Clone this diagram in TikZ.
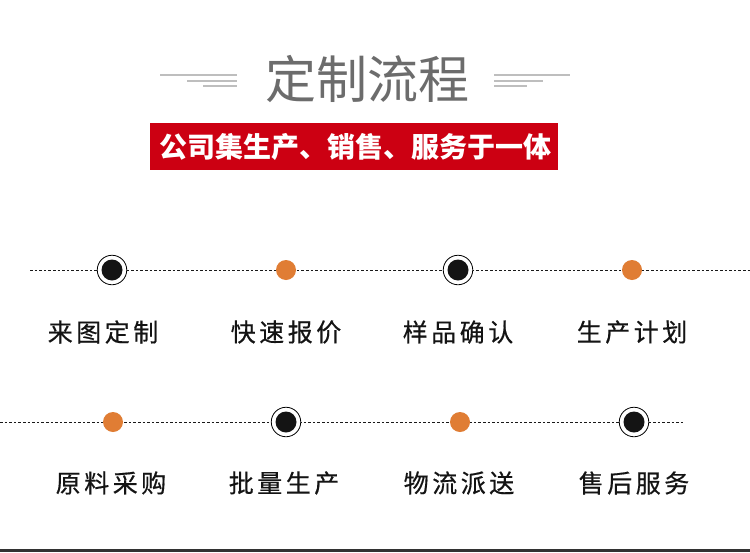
\documentclass[tikz,border=0pt]{standalone}
\usepackage{fontspec}
\newfontfamily\cjk{Noto Sans CJK SC}
\newfontfamily\cjklbl[FakeBold=0.5]{Noto Sans CJK SC}
\definecolor{bannerred}{RGB}{204,0,18}
\definecolor{dotorange}{RGB}{224,125,52}
\definecolor{titlegray}{RGB}{108,108,108}
\definecolor{decogray}{RGB}{190,190,190}
\definecolor{barcol}{RGB}{50,50,50}
\newcommand\lsp{\hspace{3.5pt}}
\begin{document}
\begin{tikzpicture}[x=1pt,y=-1pt,
  ring/.style={circle,draw=black,line width=0.8pt,fill=white,minimum size=29.5pt,inner sep=0pt,
    path picture={\fill[black!92] (path picture bounding box.center) circle (10.5pt);}},
  dot/.style={circle,fill=dotorange,minimum size=20pt,inner sep=0pt},
  lbl/.style={font=\cjklbl\fontsize{25}{25}\selectfont,text=black!92,inner sep=0pt},
  flow/.style={draw=black!90,line width=0.9pt,dash pattern=on 2.6pt off 2pt},
  deco/.style={draw=decogray,line width=1.3pt}
]
\useasboundingbox (0,0) rectangle (750,552);
\fill[white] (0,0) rectangle (750,552);

% title
\node[font=\cjk\fontsize{51}{51}\selectfont,text=titlegray,inner sep=0pt] (title) at (367,79) {定制流程};
\draw[deco] (160,75) -- (237,75);
\draw[deco] (187,81) -- (237,81);
\draw[deco] (203,86) -- (237,86);
\draw[deco] (494,75) -- (570,75);
\draw[deco] (494,81) -- (543,81);
\draw[deco] (494,86) -- (527,86);

% banner
\node[fill=bannerred,minimum width=408pt,minimum height=47pt,inner sep=0pt] (banner) at (354,146.5) {};
\node[font=\cjk\bfseries\fontsize{28}{28}\selectfont,text=white,inner sep=0pt] (bannertext) at (355,147) {公司集生产、销售、服务于一体};

% row 1
\coordinate (r1s) at (30,270);
\coordinate (r1e) at (750,270);
\draw[flow] (r1s) -- (r1e);
\node[ring] (n1) at (112,270) {};
\node[dot] (n2) at (286,270) {};
\node[ring] (n3) at (458,270) {};
\node[dot] (n4) at (632,270) {};
\node[lbl] (l1) at (103,332) {来\lsp 图\lsp 定\lsp 制};
\node[lbl] (l2) at (286,332) {快\lsp 速\lsp 报\lsp 价};
\node[lbl] (l3) at (458,332) {样\lsp 品\lsp 确\lsp 认};
\node[lbl] (l4) at (632,332) {生\lsp 产\lsp 计\lsp 划};

% row 2
\coordinate (r2s) at (0,422);
\coordinate (r2e) at (685,422);
\draw[flow] (r2s) -- (r2e);
\node[dot] (n5) at (113,422) {};
\node[ring] (n6) at (286,422) {};
\node[dot] (n7) at (460,422) {};
\node[ring] (n8) at (634,422) {};
\node[lbl] (l5) at (111,483) {原\lsp 料\lsp 采\lsp 购};
\node[lbl] (l6) at (284,483) {批\lsp 量\lsp 生\lsp 产};
\node[lbl] (l7) at (459,483) {物\lsp 流\lsp 派\lsp 送};
\node[lbl] (l8) at (634,483) {售\lsp 后\lsp 服\lsp 务};

% bottom bar
\fill[barcol] (0,548.5) rectangle (750,552);
\end{tikzpicture}
\end{document}
